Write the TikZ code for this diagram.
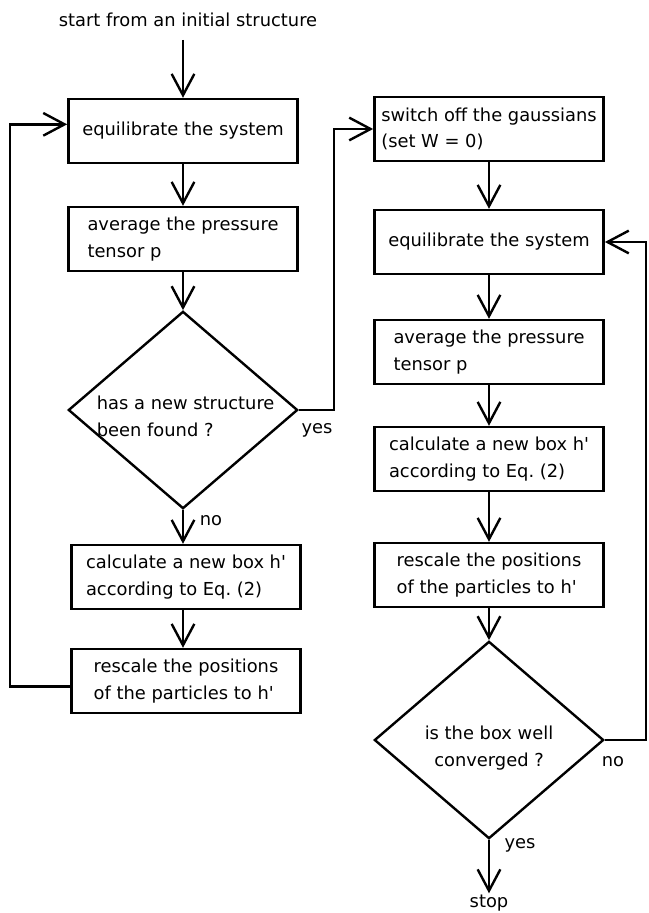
\documentclass[tikz,border=0pt]{standalone}
\usepackage{fontspec}
\setmainfont{DejaVu Sans}
\usetikzlibrary{arrows.meta, shapes.geometric, calc}

\newcommand{\chartfont}{\fontsize{13.4}{20}\selectfont\frenchspacing}
% text inside a diamond, kept from growing the shape
\newcommand{\inside}[2][l]{\raisebox{-9.5pt}[0pt][0pt]{\makebox[0pt]{\begin{tabular}{@{}#1@{}}#2\end{tabular}}}}
\newcommand{\hq}{\textquotesingle}

\begin{document}
\begin{tikzpicture}[x=0.75pt, y=-0.75pt, font=\chartfont,
    box/.style={rectangle, draw, line width=1.8pt, minimum width=172pt, minimum height=48pt, align=left, inner sep=2pt},
    test/.style={diamond, draw, line width=1.8pt, minimum width=172pt, minimum height=148pt, inner sep=0pt},
    lbl/.style={inner sep=1pt},
    arr/.style={-{Straight Barb[length=16pt, width=17pt]}, line width=1.8pt}]

  \useasboundingbox (0,0) rectangle (649,913);

  % left column
  \node[lbl] (start) at (188,20) {start from an initial structure};
  \coordinate (s) at (183,40);
  \node[box] (eq1) at (183,131) {equilibrate the system};
  \node[box] (avg1) at (183,239) {average the pressure\\tensor p};
  \node[test] (found) at (183,410) {\hspace{4pt}\inside{has a new structure\\been found ?}};
  \node[box] (calc1) at (186,577) {calculate a new box h\hq\\according to Eq. (2)};
  \node[box] (resc1) at (186,681) {rescale the positions\\of the particles to h\hq};

  % right column
  \node[box] (switch) at (489,129) {switch off the gaussians\\(set W = 0)};
  \node[box] (eq2) at (489,242) {equilibrate the system};
  \node[box] (avg2) at (489,352) {average the pressure\\tensor p};
  \node[box] (calc2) at (489,459) {calculate a new box h\hq\\according to Eq. (2)};
  \node[box] (resc2) at (489,575) {rescale the positions\\of the particles to h\hq};
  \node[test] (conv) at (489,740) {\inside[c]{is the box well\\converged ?}};
  \node[lbl] (stop) at (489,903) {stop};

  % flow
  \draw[arr] (s) -- (eq1);
  \draw[arr] (eq1) -- (avg1);
  \draw[arr] (avg1) -- (found);
  \draw[arr] (found.south) -- (found.south |- calc1.north);
  \draw[arr] (found.south |- calc1.south) -- (found.south |- resc1.north);
  \draw[arr] ([yshift=-4pt]resc1.west) -- ++(-60,0) |- ([yshift=5pt]eq1.west);
  \draw[arr] (found.east) -- ++(35,0) |- (switch.west);
  \draw[arr] (switch) -- (eq2);
  \draw[arr] (eq2) -- (avg2);
  \draw[arr] (avg2) -- (calc2);
  \draw[arr] (calc2) -- (resc2);
  \draw[arr] (resc2) -- (conv);
  \draw[arr] (conv.east) -- ++(41,0) |- (eq2.east);
  \draw[arr] (conv.south) -- (stop.north);

  % branch labels
  \node[lbl] at (317,430) {yes};
  \node[lbl] at (211,521) {no};
  \node[lbl] at (613,762) {no};
  \node[lbl] at (520,845) {yes};
\end{tikzpicture}
\end{document}
